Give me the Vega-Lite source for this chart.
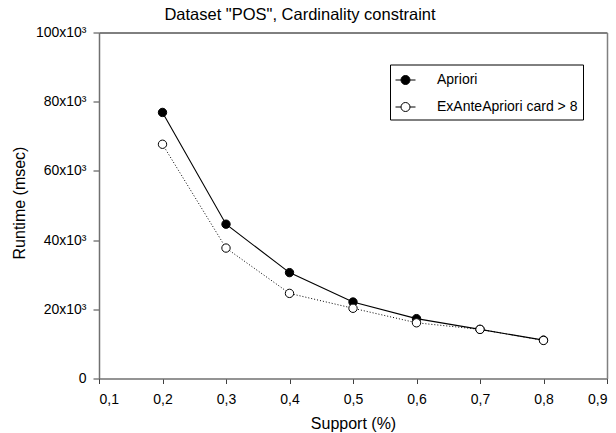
{
  "$schema": "https://vega.github.io/schema/vega-lite/v6.json",
  "autosize": "none",
  "width": 508,
  "height": 346,
  "padding": {"left": 99, "top": 32.5, "right": 9, "bottom": 54.5},
  "background": "white",
  "title": {
    "text": "Dataset \"POS\", Cardinality constraint",
    "anchor": "middle",
    "frame": "group",
    "dx": -53,
    "dy": 22,
    "offset": 11.5,
    "baseline": "alphabetic",
    "font": "Liberation Sans",
    "fontSize": 16.5,
    "fontWeight": "normal",
    "color": "black"
  },
  "config": {
    "view": {"stroke": null},
    "font": "Liberation Sans",
    "axis": {
      "grid": false,
      "labelFont": "Liberation Sans",
      "labelFontSize": 14,
      "labelColor": "black",
      "titleFont": "Liberation Sans",
      "titleFontSize": 16,
      "titleFontWeight": "normal",
      "titleColor": "black",
      "domainColor": "#707070",
      "domainWidth": 1.5,
      "tickColor": "#404040",
      "tickWidth": 1
    }
  },
  "data": {
    "values": [
      {"support": 0.2, "runtime": 76900, "series": "Apriori"},
      {"support": 0.3, "runtime": 44600, "series": "Apriori"},
      {"support": 0.4, "runtime": 30600, "series": "Apriori"},
      {"support": 0.5, "runtime": 22100, "series": "Apriori"},
      {"support": 0.6, "runtime": 17300, "series": "Apriori"},
      {"support": 0.7, "runtime": 14200, "series": "Apriori"},
      {"support": 0.8, "runtime": 11100, "series": "Apriori"},
      {"support": 0.2, "runtime": 67700, "series": "ExAnteApriori card > 8"},
      {"support": 0.3, "runtime": 37700, "series": "ExAnteApriori card > 8"},
      {"support": 0.4, "runtime": 24600, "series": "ExAnteApriori card > 8"},
      {"support": 0.5, "runtime": 20300, "series": "ExAnteApriori card > 8"},
      {"support": 0.6, "runtime": 16100, "series": "ExAnteApriori card > 8"},
      {"support": 0.7, "runtime": 14200, "series": "ExAnteApriori card > 8"},
      {"support": 0.8, "runtime": 11000, "series": "ExAnteApriori card > 8"}
    ]
  },
  "resolve": {"axis": {"x": "independent", "y": "independent"}},
  "layer": [
    {
      "transform": [{"filter": "datum.series == 'Apriori'"}],
      "mark": {"type": "line", "color": "black", "strokeWidth": 1.1},
      "encoding": {
        "x": {
          "field": "support", "type": "quantitative",
          "scale": {"domain": [0.1, 0.9], "nice": false, "zero": false},
          "axis": {
            "orient": "bottom",
            "values": [0.1, 0.2, 0.3, 0.4, 0.5, 0.6, 0.7, 0.8, 0.9],
            "labelExpr": "replace(format(datum.value, '.1f'), '.', ',')",
            "tickSize": 5,
            "labelPadding": 20,
            "labelBaseline": "alphabetic",
            "title": "Support (%)",
            "titleX": 254,
            "titleY": 50,
            "titleBaseline": "alphabetic",
            "titleAnchor": "middle"
          }
        },
        "y": {
          "field": "runtime", "type": "quantitative",
          "scale": {"domain": [0, 100000], "nice": false},
          "axis": {
            "orient": "left",
            "values": [0, 20000, 40000, 60000, 80000, 100000],
            "labelExpr": "datum.value == 0 ? '0' : format(datum.value / 1000, 'd') + 'x10³'",
            "tickSize": 6,
            "labelPadding": 7,
            "title": "Runtime (msec)",
            "titleAngle": -90,
            "titleX": -75,
            "titleY": 170,
            "titleBaseline": "alphabetic",
            "titleAnchor": "middle"
          }
        }
      }
    },
    {
      "transform": [{"filter": "datum.series != 'Apriori'"}],
      "mark": {"type": "line", "color": "black", "strokeWidth": 1, "strokeDash": [1, 2]},
      "encoding": {
        "x": {"field": "support", "type": "quantitative", "axis": null},
        "y": {"field": "runtime", "type": "quantitative", "axis": null}
      }
    },
    {
      "mark": {"type": "circle", "size": 70, "stroke": "black", "strokeWidth": 1, "opacity": 1},
      "encoding": {
        "x": {"field": "support", "type": "quantitative", "axis": null},
        "y": {"field": "runtime", "type": "quantitative", "axis": null},
        "fill": {
          "field": "series", "type": "nominal",
          "scale": {"domain": ["Apriori", "ExAnteApriori card > 8"], "range": ["black", "white"]},
          "legend": {
            "title": null,
            "orient": "none",
            "legendX": 291,
            "legendY": 32,
            "padding": 5,
            "strokeColor": "black",
            "fillColor": "white",
            "cornerRadius": 0,
            "labelFont": "Liberation Sans",
            "labelFontSize": 14,
            "labelColor": "black",
            "labelOffset": 21,
            "labelLimit": 300,
            "rowPadding": 9,
            "symbolType": "M-1,0H-0.45M0.45,0H1M-0.45,0A0.45,0.45,0,1,1,0.45,0A0.45,0.45,0,1,1,-0.45,0Z",
            "symbolSize": 400,
            "symbolStrokeColor": "black",
            "symbolStrokeWidth": 1,
            "symbolOpacity": 1
          }
        }
      }
    },
    {
      "mark": {"type": "line", "opacity": 0},
      "encoding": {
        "x": {
          "field": "support", "type": "quantitative",
          "axis": {"orient": "top", "labels": false, "ticks": false, "title": null, "domainColor": "black", "domainWidth": 1}
        },
        "y": {
          "field": "runtime", "type": "quantitative",
          "axis": {"orient": "right", "labels": false, "ticks": false, "title": null, "domainColor": "#808080", "domainWidth": 1.5}
        },
        "detail": {"field": "series"}
      }
    }
  ]
}
